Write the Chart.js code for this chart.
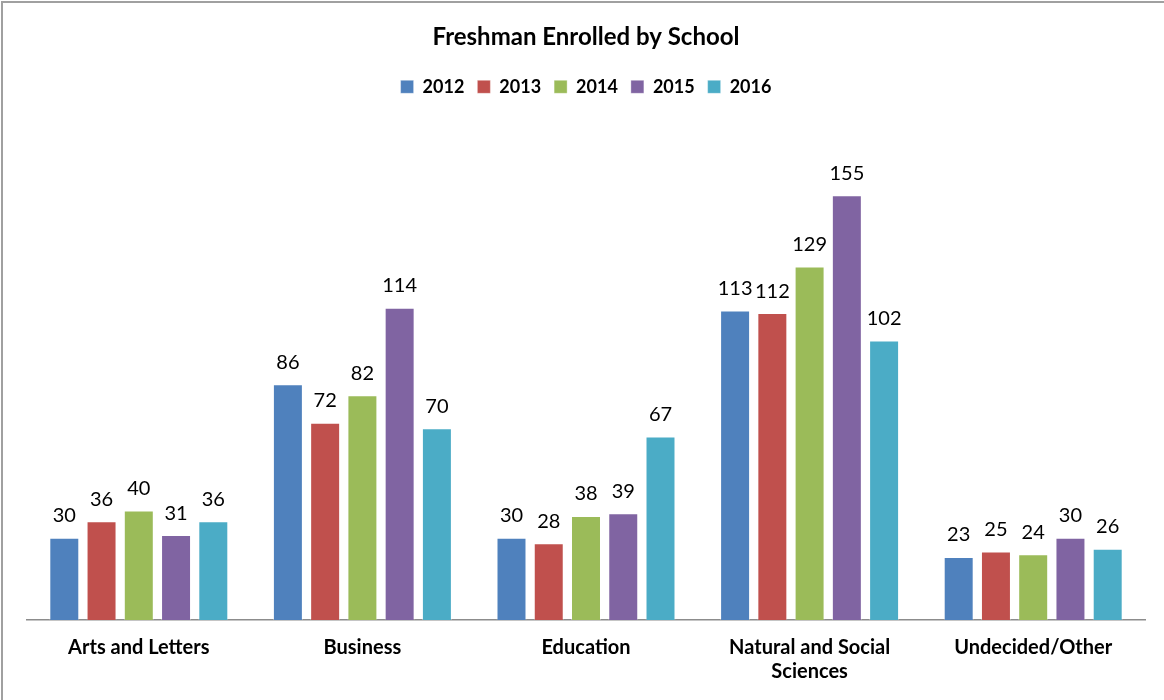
<!DOCTYPE html>
<html><head><meta charset="utf-8">
<script src="https://cdn.jsdelivr.net/npm/chart.js@4"></script>
<style>
html,body{margin:0;padding:0;background:#fff;}
#wrap{position:absolute;left:0;top:0;width:1164px;height:700px;}
#frame{position:absolute;left:1px;top:1px;width:1200px;height:800px;border-left:2px solid #a0a0a0;border-top:2px solid #a0a0a0;box-sizing:border-box;pointer-events:none;}
</style></head>
<body>
<div id="wrap"><canvas id="c" width="1164" height="700"></canvas><div id="frame"></div></div>
<script>
const categories = ["Arts and Letters", "Business", "Education", ["Natural and Social", "Sciences"], "Undecided/Other"];
const seriesNames = ["2012", "2013", "2014", "2015", "2016"];
const values2012 = [30, 86, 30, 113, 23];
const values2013 = [36, 72, 28, 112, 25];
const values2014 = [40, 82, 38, 129, 24];
const values2015 = [31, 114, 39, 155, 30];
const values2016 = [36, 70, 67, 102, 26];
const colors = ["#4F81BD", "#C0504D", "#9BBB59", "#8064A2", "#4BACC6"];
const allValues = [values2012, values2013, values2014, values2015, values2016];

const FONT = "Lato, 'Liberation Sans', sans-serif";

const labelPlugin = {
  id: 'barLabels',
  afterDatasetsDraw(chart) {
    const ctx = chart.ctx;
    ctx.save();
    ctx.font = "20px " + FONT;
    ctx.fillStyle = "#000";
    ctx.textAlign = "center";
    ctx.textBaseline = "middle";
    chart.data.datasets.forEach((ds, i) => {
      chart.getDatasetMeta(i).data.forEach((bar, j) => {
        ctx.fillText(String(ds.data[j]), bar.x, bar.y - 22);
      });
    });
    ctx.restore();
  }
};
const legendSpace = {
  id: 'legendSpace',
  beforeInit(chart) {
    const origFit = chart.legend.fit;
    chart.legend.fit = function () { origFit.bind(chart.legend)(); this.height += 21; };
  }
};

new Chart(document.getElementById('c'), {
  type: 'bar',
  data: {
    labels: categories,
    datasets: seriesNames.map((n, i) => ({
      label: n, data: allValues[i], backgroundColor: colors[i],
      borderColor: 'rgba(255,255,255,0.35)', borderWidth: 1,
      categoryPercentage: 0.833, barPercentage: 0.805
    }))
  },
  options: {
    responsive: false, animation: false,
    layout: { padding: { left: 27, right: 19, top: 0, bottom: 0 } },
    plugins: {
      title: { display: true, text: "Freshman Enrolled by School", color: "#000",
        font: { family: FONT, size: 24, weight: 'bold' }, padding: { top: 23, bottom: 13 } },
      legend: { position: 'top', labels: { color: "#000", boxWidth: 13, boxHeight: 13,
        font: { family: FONT, size: 18, weight: 'bold' }, padding: 13 } },
      tooltip: { enabled: false }
    },
    scales: {
      x: { grid: { display: false, drawTicks: false }, border: { display: true, color: "#8c8c8c", width: 1.5 },
        ticks: { color: "#000", padding: 16, font: { family: FONT, size: 20, weight: 'bold' }, lineHeight: 1.3 } },
      y: { display: false, min: 0, max: 180 }
    }
  },
  plugins: [labelPlugin, legendSpace]
});
</script>
</body></html>
